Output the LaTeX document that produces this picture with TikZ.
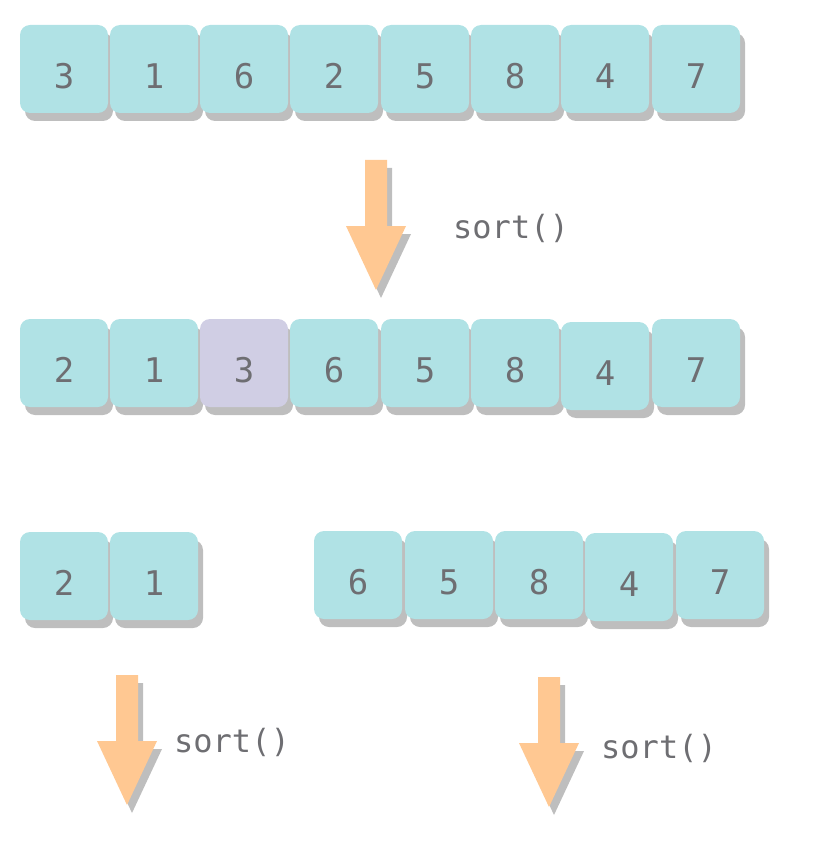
\documentclass[tikz,border=0pt]{standalone}
\usepackage{fontspec}
\newfontfamily\monofnt{DejaVu Sans Mono}
\usetikzlibrary{shadows}
\definecolor{boxcyan}{RGB}{176,226,229}
\definecolor{boxlilac}{RGB}{208,206,228}
\definecolor{arrorange}{RGB}{255,200,146}
\definecolor{shadowgray}{RGB}{190,190,190}
\definecolor{txtgray}{RGB}{110,110,114}
\tikzset{
  cell/.style={fill=boxcyan, rounded corners=10pt, minimum width=88pt, minimum height=88pt,
    inner sep=0pt, text height=39pt, text depth=0pt,
    font=\monofnt\fontsize{34}{34}\selectfont, text=txtgray,
    drop shadow={shadow xshift=5pt, shadow yshift=-8pt, fill=shadowgray, opacity=1}},
  pivot/.style={cell, fill=boxlilac},
  oplabel/.style={anchor=west, inner sep=0pt, font=\monofnt\fontsize{32}{32}\selectfont, text=txtgray},
  pics/sortarrow/.style={code={
    \fill[shadowgray] (-6,8) -- (16,8) -- (16,74) -- (35,74) -- (5,138) -- (-25,74) -- (-6,74) -- cycle;
    \fill[arrorange] (-11,0) -- (11,0) -- (11,66) -- (30,66) -- (0,130) -- (-30,66) -- (-11,66) -- cycle;
  }}
}
\begin{document}
\begin{tikzpicture}[x=1pt,y=-1pt]
\useasboundingbox (0,0) rectangle (832,861);
% row 1
\node[cell] (r1a) at (64,69) {3};
\node[cell] (r1b) at (154,69) {1};
\node[cell] (r1c) at (244,69) {6};
\node[cell] (r1d) at (334,69) {2};
\node[cell] (r1e) at (425,69) {5};
\node[cell] (r1f) at (515,69) {8};
\node[cell] (r1g) at (605,69) {4};
\node[cell] (r1h) at (696,69) {7};
% arrow 1
\pic at (376,160) {sortarrow};
\node[oplabel] (l1) at (453,228) {sort()};
% row 2
\node[cell] (r2a) at (64,363) {2};
\node[cell] (r2b) at (154,363) {1};
\node[pivot] (r2c) at (244,363) {3};
\node[cell] (r2d) at (334,363) {6};
\node[cell] (r2e) at (425,363) {5};
\node[cell] (r2f) at (515,363) {8};
\node[cell] (r2g) at (605,366) {4};
\node[cell] (r2h) at (696,363) {7};
% row 3
\node[cell] (r3a) at (64,576) {2};
\node[cell] (r3b) at (154,576) {1};
\node[cell] (r3c) at (358,575) {6};
\node[cell] (r3d) at (449,575) {5};
\node[cell] (r3e) at (539,575) {8};
\node[cell] (r3f) at (629,577) {4};
\node[cell] (r3g) at (720,575) {7};
% lower arrows
\pic at (127,675) {sortarrow};
\node[oplabel] (l2) at (174,742) {sort()};
\pic at (549,677) {sortarrow};
\node[oplabel] (l3) at (601,748) {sort()};
\end{tikzpicture}
\end{document}
